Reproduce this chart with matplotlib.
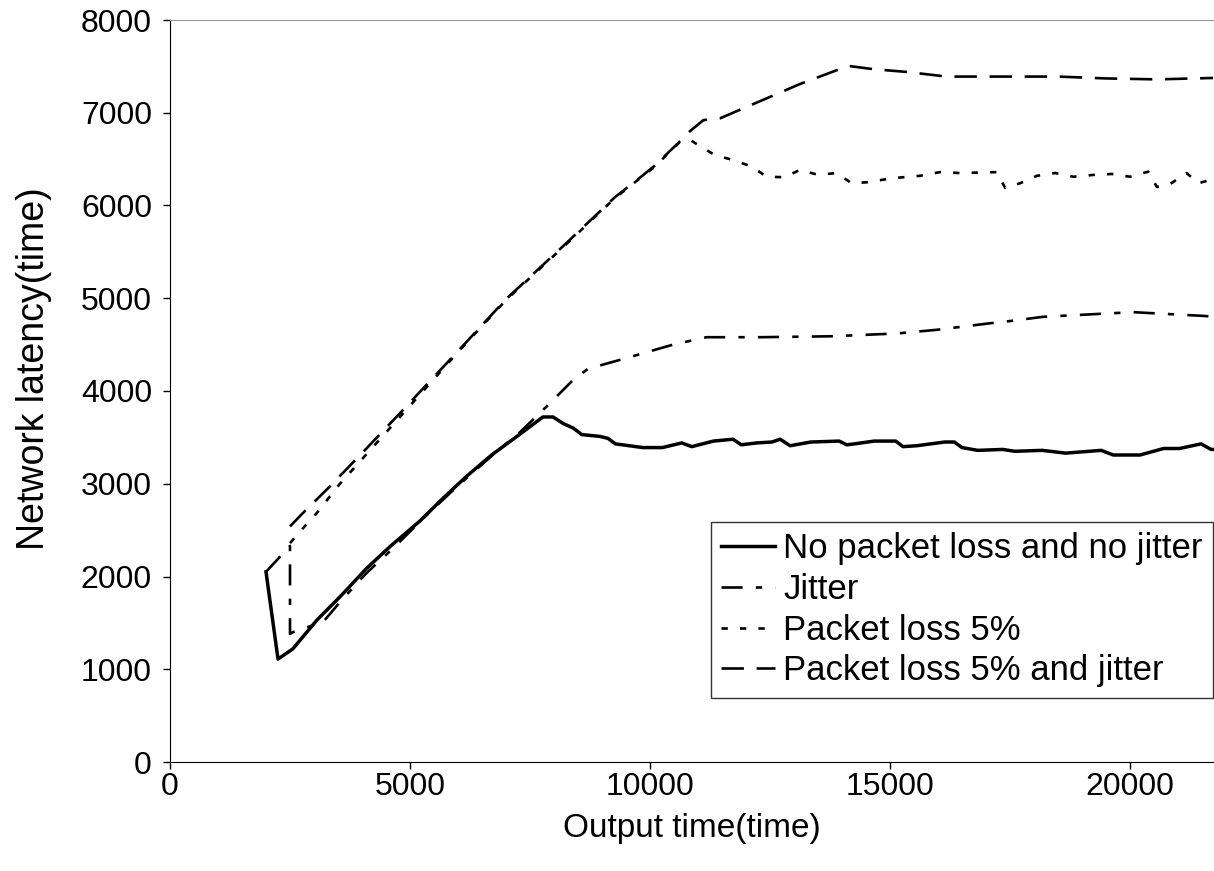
from __future__ import annotations

import matplotlib

matplotlib.use("Agg")
import matplotlib.pyplot as plt


# No packet loss and no jitter
BASE_X = [2000, 2250, 2560, 3060, 3540, 4100, 4600, 5210, 5700, 6200, 6700, 7200, 7770, 7980,
          8190, 8400, 8580, 8960, 9120, 9280, 9850, 10260, 10660, 10870, 11320, 11730, 11900,
          12220, 12540, 12710, 12920, 13350, 13940, 14100, 14260, 14670, 15120, 15270, 15560,
          16140, 16340, 16500, 16830, 17350, 17600, 18170, 18660, 19400, 19650, 20210, 20700,
          21030, 21480, 21690, 21750]
BASE_Y = [2050, 1110, 1220, 1530, 1780, 2090, 2330, 2600, 2850, 3090, 3310, 3500, 3720, 3720,
          3650, 3600, 3530, 3510, 3490, 3430, 3390, 3390, 3440, 3400, 3460, 3480, 3420,
          3440, 3450, 3480, 3410, 3450, 3460, 3420, 3430, 3460, 3460, 3400, 3410,
          3450, 3450, 3390, 3360, 3370, 3350, 3360, 3330, 3360, 3310, 3310, 3380,
          3380, 3430, 3370, 3370]

# Jitter
JITTER_X = [2000, 2500, 2500, 2560, 2870, 3190, 3600, 4100, 4700, 5300, 6000, 6700, 7300, 7880,
            8400, 8710, 9440, 10480, 10830, 11180, 12290, 13790, 14900, 15250, 15980, 17080,
            17360, 18190, 19310, 20070, 20420, 21520, 21750]
JITTER_Y = [2050, 2330, 1380, 1400, 1455, 1510, 1760, 2040, 2330, 2640, 2980, 3300, 3560, 3850,
            4120, 4240, 4345, 4500, 4540, 4580, 4580, 4590, 4615, 4625, 4660, 4730,
            4745, 4800, 4830, 4850, 4840, 4810, 4800]

# Packet loss 5%
LOSS_X = [2500, 2770, 3060, 3540, 4790, 6000, 7000, 8125, 9270, 10100, 10620, 10830, 11040,
          11350, 11730, 12120, 12430, 12810, 13125, 13500, 13890, 14200, 14510, 15060, 15625,
          16040, 16460, 17220, 17400, 17710, 18060, 18440, 18820, 19240, 19620, 20000, 20380,
          20560, 20830, 21180, 21420, 21750]
LOSS_Y = [2360, 2520, 2685, 3000, 3720, 4420, 4980, 5520, 6080, 6420, 6685, 6710, 6640,
          6545, 6490, 6420, 6310, 6305, 6385, 6330, 6350, 6240, 6250, 6295, 6320,
          6360, 6350, 6360, 6190, 6240, 6320, 6350, 6310, 6330, 6340, 6310, 6365,
          6200, 6230, 6350, 6240, 6285]

# Packet loss 5% and jitter
LOSS_JITTER_X = [2500, 2770, 3290, 4000, 4790, 6000, 7000, 8125, 9270, 9790, 10100, 10620, 10830,
                 11110, 11460, 13125, 14130, 14650, 15350, 16180, 17290, 18500, 19500, 20560,
                 21730]
LOSS_JITTER_Y = [2540, 2685, 2950, 3330, 3760, 4430, 4990, 5530, 6090, 6300, 6430, 6690, 6800,
                 6920, 6940, 7310, 7505, 7470, 7440, 7390, 7390, 7390, 7370, 7360,
                 7375]

LABELS = [
    "No packet loss and no jitter",
    "Jitter",
    "Packet loss 5%",
    "Packet loss 5% and jitter",
]

X_TICKS = [0, 5000, 10000, 15000, 20000]
Y_TICKS = [0, 1000, 2000, 3000, 4000, 5000, 6000, 7000, 8000]

plt.rcParams["font.family"] = ["Liberation Sans", "DejaVu Sans"]

fig = plt.figure(figsize=(12.14, 8.71), dpi=100)
ax = fig.add_axes((170 / 1214, 1 - 762 / 871, 1 - 170 / 1214, (762 - 20) / 871))

ax.plot(BASE_X, BASE_Y, color="black", linewidth=2.5, solid_joinstyle="round", label=LABELS[0])
ax.plot(JITTER_X, JITTER_Y, color="black", linewidth=1.9, dashes=(8, 5, 2.4, 5), label=LABELS[1])
ax.plot(LOSS_X, LOSS_Y, color="black", linewidth=1.9, dashes=(2.4, 4.6), label=LABELS[2])
ax.plot(LOSS_JITTER_X, LOSS_JITTER_Y, color="black", linewidth=1.9, dashes=(8.5, 4.8), label=LABELS[3])

ax.set_xlim(0, 21750)
ax.set_ylim(0, 8000)
ax.set_xticks(X_TICKS)
ax.set_yticks(Y_TICKS)
ax.tick_params(axis="both", labelsize=23, direction="out", length=5, width=1, color="black")
ax.tick_params(axis="x", pad=2)
ax.tick_params(axis="y", pad=8)

ax.spines["right"].set_visible(False)
ax.spines["top"].set_color("#999999")
ax.spines["left"].set_color("black")
ax.spines["bottom"].set_color("black")

ax.set_xlabel("Output time(time)", fontsize=24, labelpad=8)
ax.set_ylabel("Network latency(time)", fontsize=27)
ax.yaxis.set_label_coords(-0.113, 0.53)

legend = ax.legend(
    loc="upper right",
    bbox_to_anchor=(0.999, 0.3235),
    borderaxespad=0,
    fontsize=25,
    frameon=True,
    fancybox=False,
    handlelength=1.55,
    handletextpad=0.23,
    labelspacing=0.22,
    borderpad=0.3,
)
legend.get_frame().set_edgecolor("black")
legend.get_frame().set_linewidth(1.0)

fig.savefig("out.png", dpi=100)
plt.close(fig)
